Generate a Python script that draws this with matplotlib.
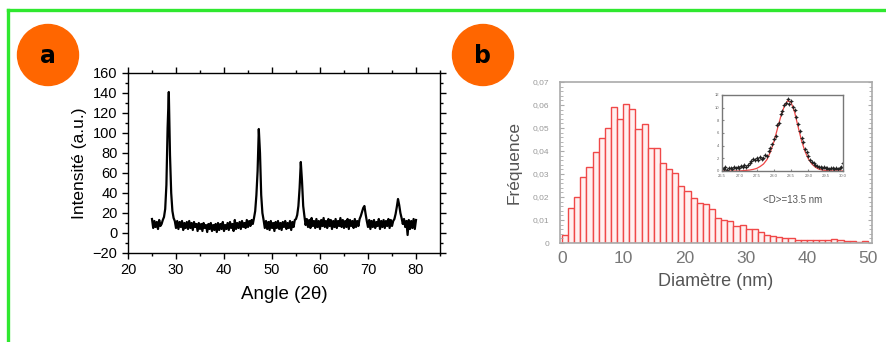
import numpy as np
import matplotlib
matplotlib.use("Agg")
import matplotlib.pyplot as plt
from matplotlib.patches import Ellipse
from matplotlib.lines import Line2D
from matplotlib.ticker import MultipleLocator, FuncFormatter

plt.rcParams['font.family'] = ['Liberation Sans', 'DejaVu Sans']

# --- panel a : XRD pattern, one value every 0.25 deg from 25 to 80
angle_start = 25.0
angle_step = 0.25
intensity = [
    14, 5, 12, 6, 11, 4, 13, 7,            # 25-27
    9, 13, 16, 24, 48, 105, 141, 78,       # 27-29
    40, 22, 15, 12, 5, 12, 4, 11,          # 29-31
    6, 12, 3, 10, 5, 11, 4, 12,            # 31-33
    5, 10, 3, 11, 6, 9, 2, 10,             # 33-35
    4, 9, 2, 10, 5, 8, 1, 9,               # 35-37
    4, 10, 2, 8, 3, 9, 1, 10,              # 37-39
    3, 9, 4, 11, 2, 8, 4, 10,              # 39-41
    3, 11, 5, 9, 2, 13, 4, 10,             # 41-43
    5, 11, 4, 12, 6, 10, 5, 13,            # 43-45
    6, 12, 7, 13, 9, 15, 22, 38,           # 45-47
    62, 104, 80, 38, 20, 13, 5, 12,        # 47-49
    4, 11, 3, 12, 5, 10, 2, 11,            # 49-51
    5, 12, 4, 10, 3, 11, 6, 12,            # 51-53
    4, 10, 5, 12, 3, 11, 6, 13,            # 53-55
    14, 18, 27, 45, 71, 52, 27, 17,        # 55-57
    8, 14, 6, 13, 5, 15, 7, 12,            # 57-59
    5, 14, 6, 12, 4, 13, 7, 15,            # 59-61
    6, 12, 5, 14, 7, 13, 4, 12,            # 61-63
    6, 14, 5, 12, 7, 15, 6, 13,            # 63-65
    5, 12, 6, 14, 4, 13, 7, 12,            # 65-67
    5, 14, 6, 12, 7, 14, 17, 21,           # 67-69
    25, 27, 19, 12, 6, 13, 4, 12,          # 69-71
    6, 13, 5, 11, 7, 14, 4, 12,            # 71-73
    6, 13, 5, 12, 7, 14, 5, 13,            # 73-75
    7, 12, 14, 19, 26, 34, 28, 20,         # 75-77
    15, 9, 14, 6, 12, -2, 13, 4,           # 77-79
    12, 5, 14, 4, 13,                      # 79-80
]
angle = angle_start + angle_step * np.arange(len(intensity))

# --- panel b : size histogram (1 nm bins)
diam_bins = list(range(0, 51))
freq = [0.0036, 0.0153, 0.0200, 0.0289, 0.0332, 0.0397, 0.0455, 0.0502, 0.0592, 0.0541,
        0.0605, 0.0581, 0.0495, 0.0516, 0.0411, 0.0415, 0.0350, 0.0321, 0.0303, 0.0250,
        0.0224, 0.0196, 0.0176, 0.0170, 0.0147, 0.0109, 0.0098, 0.0094, 0.0076, 0.0079,
        0.0060, 0.0063, 0.0050, 0.0036, 0.0032, 0.0026, 0.0020, 0.0022, 0.0014, 0.0014,
        0.0012, 0.0012, 0.0014, 0.0012, 0.0017, 0.0012, 0.0009, 0.0009, 0.0006, 0.0007]

# inset: measured points (black) and fit (red)
ins_x_start, ins_x_step = 26.5, 0.05
ins_points = [0.5, 0.3, 0.6, 0.2, 0.4, 0.5, 0.3, 0.6, 0.4, 0.7,
              0.5, 0.8, 0.6, 0.9, 0.7, 1.0, 1.3, 1.6, 1.9, 1.7,
              2.1, 1.8, 2.2, 1.9, 2.0, 2.6, 2.4, 3.1, 3.6, 4.3,
              5.0, 5.6, 7.2, 7.6, 9.0, 9.4, 10.5, 10.8, 11.4, 10.6,
              11.0, 10.1, 9.6, 8.5, 7.4, 6.3, 5.2, 4.6, 3.4, 3.0,
              2.3, 1.8, 1.4, 1.2, 0.9, 0.8, 0.6, 0.7, 0.5, 0.6,
              0.4, 0.5, 0.3, 0.5, 0.4, 0.3, 0.5, 0.3, 0.4, 0.6, 1.2]
fit_x_step = 0.1
fit_vals = [0.0, 0.0, 0.0, 0.0, 0.0, 0.0, 0.05, 0.1, 0.15, 0.25, 0.4,
            0.7, 1.1, 1.8, 3.0, 4.6, 6.6, 8.6, 10.2, 11.1, 10.8, 9.3, 7.0,
            4.8, 3.1, 1.9, 1.1, 0.6, 0.3, 0.15, 0.08, 0.04, 0.02, 0.01, 0.0, 0.0]
ins_ticks = [26.5, 27, 27.5, 28, 28.5, 29, 29.5, 30]

W, H = 887, 342
fig = plt.figure(figsize=(W / 100, H / 100), dpi=100)

# green frame (top and left only)
green = '#2fe82f'
fig.add_artist(Line2D([8 / W, 1.0], [1 - 10 / H, 1 - 10 / H], color=green, lw=2.4,
                      transform=fig.transFigure))
fig.add_artist(Line2D([8 / W, 8 / W], [0.0, 1 - 10 / H], color=green, lw=2.4,
                      transform=fig.transFigure))

# orange labels
for cx, lab in [(48, 'a'), (483, 'b')]:
    fig.add_artist(Ellipse((cx / W, 1 - 55 / H), 61 / W, 61 / H, color='#ff6600',
                           transform=fig.transFigure))
    fig.text(cx / W, 1 - 56 / H, lab, ha='center', va='center', fontsize=17,
             fontweight='bold', color='black', family='DejaVu Sans')

# ---- panel a
ax = fig.add_axes([128 / W, 1 - 253 / H, 312 / W, 180 / H])
ax.plot(angle, intensity, color='black', lw=1.6)
ax.set_xlim(20, 85)
ax.set_ylim(-20, 160)
ax.set_xticks([20, 30, 40, 50, 60, 70, 80])
ax.xaxis.set_minor_locator(MultipleLocator(5))
ax.yaxis.set_major_locator(MultipleLocator(20))
ax.yaxis.set_minor_locator(MultipleLocator(10))
ax.tick_params(which='both', direction='out', top=True, right=True, width=1)
ax.tick_params(which='major', length=4, labelsize=10.5)
ax.tick_params(which='minor', length=2)
for s in ax.spines.values():
    s.set_linewidth(1)
ax.set_xlabel('Angle (2θ)', fontsize=13.5, labelpad=6)
ax.set_ylabel('Intensité (a.u.)', fontsize=12.5, labelpad=4)

# ---- panel b
bx = fig.add_axes([560 / W, 1 - 243 / H, 312 / W, 161 / H])
bx.bar(diam_bins[:-1], freq, width=1.0, align='edge', facecolor='#fff0f0',
       edgecolor='#f04848', linewidth=1.0)
bx.set_xlim(-0.33, 50.65)
bx.set_ylim(0, 0.07)
bx.set_xticks([0, 10, 20, 30, 40, 50])
bx.yaxis.set_major_locator(MultipleLocator(0.01))
bx.yaxis.set_minor_locator(MultipleLocator(0.002))
bx.yaxis.set_major_formatter(FuncFormatter(
    lambda v, p: '0' if abs(v) < 1e-9 else ('%.2f' % v).replace('.', ',')))
bx.tick_params(axis='x', which='both', length=0, labelsize=12.5, labelcolor='#777777', pad=6)
bx.tick_params(axis='y', which='both', direction='in', left=True, right=True,
               color='#aaaaaa', labelsize=6, labelcolor='#999999', pad=8)
bx.tick_params(axis='y', which='major', length=3)
bx.tick_params(axis='y', which='minor', length=2)
for s in bx.spines.values():
    s.set_color('#aaaaaa')
    s.set_linewidth(1.2)
bx.set_xlabel('Diamètre (nm)', fontsize=13, color='#555555', labelpad=5)
bx.set_ylabel('Fréquence', fontsize=12.5, color='#555555', labelpad=8)
bx.text(0.745, 0.27, '<D>=13.5 nm', transform=bx.transAxes, ha='center', va='center',
        fontsize=7, color='#555555')

# ---- inset
ix = fig.add_axes([722 / W, 1 - 171 / H, 121 / W, 76 / H])
px = ins_x_start + ins_x_step * np.arange(len(ins_points))
fx = ins_x_start + fit_x_step * np.arange(len(fit_vals))
ix.plot(fx, fit_vals, color='#ee4444', lw=0.9)
ix.plot(px, ins_points, linestyle='none', marker='+', ms=2.5, mew=0.6, color='#222222')
ix.plot(px, ins_points, linestyle='none', marker='.', ms=1.8, color='#222222')
ix.set_xlim(26.5, 30)
ix.set_ylim(0, 12)
ix.set_xticks(ins_ticks)
ix.set_yticks([0, 2, 4, 6, 8, 10, 12])
ix.tick_params(direction='in', length=1.5, labelsize=3, labelcolor='#666666', pad=2,
               color='#888888')
for s in ix.spines.values():
    s.set_color('#777777')
    s.set_linewidth(1.0)

fig.savefig('out.png', dpi=100)
